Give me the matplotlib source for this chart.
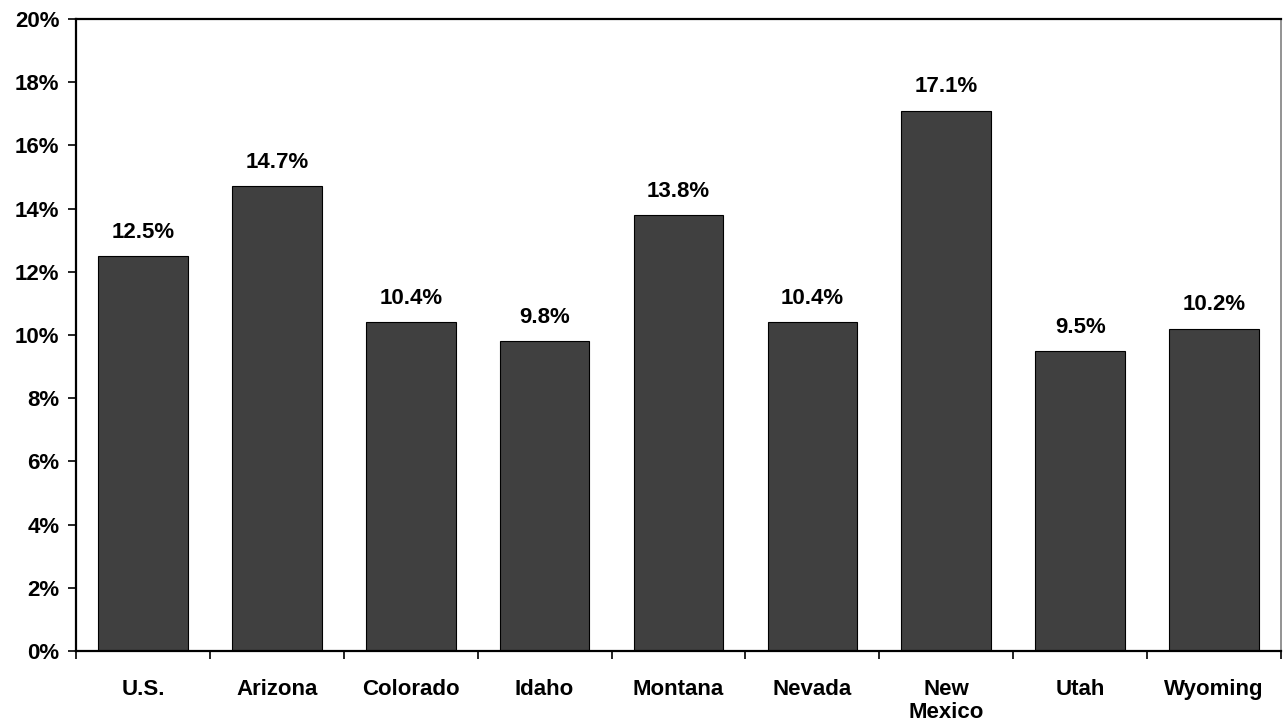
import matplotlib
matplotlib.use("Agg")
import matplotlib.pyplot as plt
from matplotlib.ticker import MultipleLocator, FuncFormatter, FixedLocator

categories = ["U.S.", "Arizona", "Colorado", "Idaho", "Montana", "Nevada", "New\nMexico", "Utah", "Wyoming"]
values = [12.5, 14.7, 10.4, 9.8, 13.8, 10.4, 17.1, 9.5, 10.2]
value_labels = ["12.5%", "14.7%", "10.4%", "9.8%", "13.8%", "10.4%", "17.1%", "9.5%", "10.2%"]

plt.rcParams['font.family'] = ['Liberation Sans', 'DejaVu Sans']
plt.rcParams['font.weight'] = 'bold'

FS = 16

fig = plt.figure(figsize=(12.88, 7.28), dpi=100)
ax = fig.add_axes([76/1288, 1-651/728, (1281-76)/1288, (651-19)/728])

x = list(range(len(categories)))
ax.bar(x, values, width=0.67, color="#404040", edgecolor="black", linewidth=0.8, zorder=2)

for xi, v, lab in zip(x, values, value_labels):
    ax.annotate(lab, (xi, v), xytext=(0, 9.5), textcoords="offset points",
                ha="center", va="bottom", fontsize=FS, fontweight="bold")

ax.set_xlim(-0.5, len(categories) - 0.5)
ax.set_ylim(0, 20)
ax.yaxis.set_major_locator(MultipleLocator(2))
ax.yaxis.set_major_formatter(FuncFormatter(lambda v, p: f"{v:.0f}%"))

ax.set_xticks(x)
ax.set_xticklabels(categories, fontsize=FS, fontweight="bold", va="top", linespacing=1.12)
ax.tick_params(axis="x", which="major", length=0, pad=20)
ax.xaxis.set_minor_locator(FixedLocator([i - 0.5 for i in range(len(categories) + 1)]))
ax.tick_params(axis="x", which="minor", length=6, width=1.2, direction="out")
ax.tick_params(axis="y", length=6, width=1.2, direction="out", labelsize=FS, pad=6)
for t in ax.get_yticklabels():
    t.set_fontweight("bold")

for s in ["left", "bottom", "top"]:
    ax.spines[s].set_linewidth(1.6)
    ax.spines[s].set_color("black")
ax.spines["right"].set_linewidth(1.2)
ax.spines["right"].set_color("#808080")

fig.savefig("out.png", dpi=100)
